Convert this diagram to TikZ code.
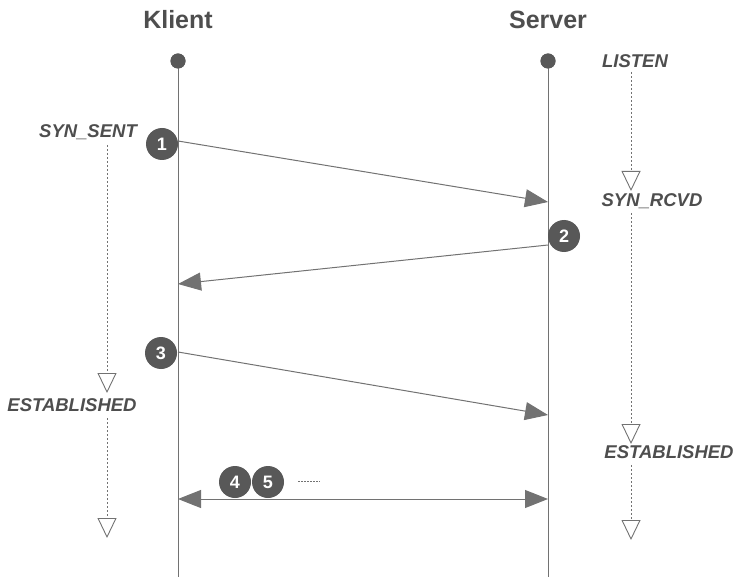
\documentclass[tikz,border=0pt]{standalone}
\usepackage{fontspec}
\setmainfont{Liberation Sans}
\usetikzlibrary{arrows.meta}
\definecolor{lineg}{HTML}{727272}
\definecolor{dotg}{HTML}{585858}
\definecolor{txtg}{HTML}{4E4E4E}
\tikzset{
  title/.style={font=\fontsize{25}{25}\selectfont\bfseries, text=txtg, inner sep=0pt},
  statelbl/.style={font=\fontsize{18.5}{18.5}\selectfont\bfseries\itshape, text=txtg, inner sep=0pt},
  enddot/.style={circle, fill=dotg, minimum size=15pt, inner sep=0pt},
  numcirc/.style={circle, fill=dotg, minimum size=32pt, inner sep=0pt, text=white, font=\fontsize{18}{18}\selectfont\bfseries},
  lifeline/.style={draw=lineg, line width=1pt},
  msg/.style={draw=lineg, line width=1pt, -{Triangle[length=23pt,width=18pt]}},
  dmsg/.style={draw=lineg, line width=1pt, {Triangle[length=23pt,width=18pt]}-{Triangle[length=23pt,width=18pt]}},
  stateflow/.style={draw=lineg, line width=0.9pt, dash pattern=on 2pt off 2pt, -{Triangle[open, length=20pt, width=19pt, line width=0.9pt]}},
  tiny/.style={draw=lineg, line width=0.8pt, dash pattern=on 1.5pt off 1.5pt}
}
\begin{document}
\begin{tikzpicture}[x=1pt, y=-1pt]
\useasboundingbox (0,0) rectangle (738,577);
% titles
\node[title] (tk) at (178,20) {Klient};
\node[title] (ts) at (548,20) {Server};
% lifelines
\node[enddot] (kdot) at (178,61) {};
\node[enddot] (sdot) at (548,61) {};
\coordinate (kend) at (178,577);
\coordinate (send) at (548,577);
\draw[lifeline] (kdot.center) -- (kend);
\draw[lifeline] (sdot.center) -- (send);
\node[enddot] at (178,61) {};
\node[enddot] at (548,61) {};
% message anchor points
\coordinate (m1a) at (178,141);
\coordinate (m1b) at (548,202);
\coordinate (m2a) at (548,245);
\coordinate (m2b) at (178,284);
\coordinate (m3a) at (178,352);
\coordinate (m3b) at (548,415);
\coordinate (m4a) at (178,499);
\coordinate (m4b) at (548,499);
\draw[msg] (m1a) -- (m1b);
\draw[msg] (m2a) -- (m2b);
\draw[msg] (m3a) -- (m3b);
\draw[dmsg] (m4a) -- (m4b);
% numbered circles
\node[numcirc] (c1) at (162,144) {1};
\node[numcirc] (c2) at (564,236) {2};
\node[numcirc] (c3) at (161,353) {3};
\node[numcirc] (c4) at (235,482) {4};
\node[numcirc] (c5) at (268,482) {5};
\coordinate (tstart) at (298,481);
\coordinate (tail) at (320,481);
\draw[tiny] (tstart) -- (tail);
% client states
\node[statelbl] (ss) at (88,132) {SYN\_SENT};
\coordinate (ss0) at (107,145);
\coordinate (ss1) at (107,393);
\node[statelbl] (ke) at (72,405) {ESTABLISHED};
\coordinate (ke0) at (107,418);
\coordinate (ke1) at (107,538);
\draw[stateflow] (ss0) -- (ss1);
\draw[stateflow] (ke0) -- (ke1);
% server states
\node[statelbl] (li) at (635,61) {LISTEN};
\coordinate (li0) at (631,72);
\coordinate (li1) at (631,191);
\node[statelbl] (sr) at (652,201) {SYN\_RCVD};
\coordinate (sr0) at (631,213);
\coordinate (sr1) at (631,444);
\node[statelbl] (se) at (669,452) {ESTABLISHED};
\coordinate (se0) at (631,465);
\coordinate (se1) at (631,540);
\draw[stateflow] (li0) -- (li1);
\draw[stateflow] (sr0) -- (sr1);
\draw[stateflow] (se0) -- (se1);
\end{tikzpicture}
\end{document}
